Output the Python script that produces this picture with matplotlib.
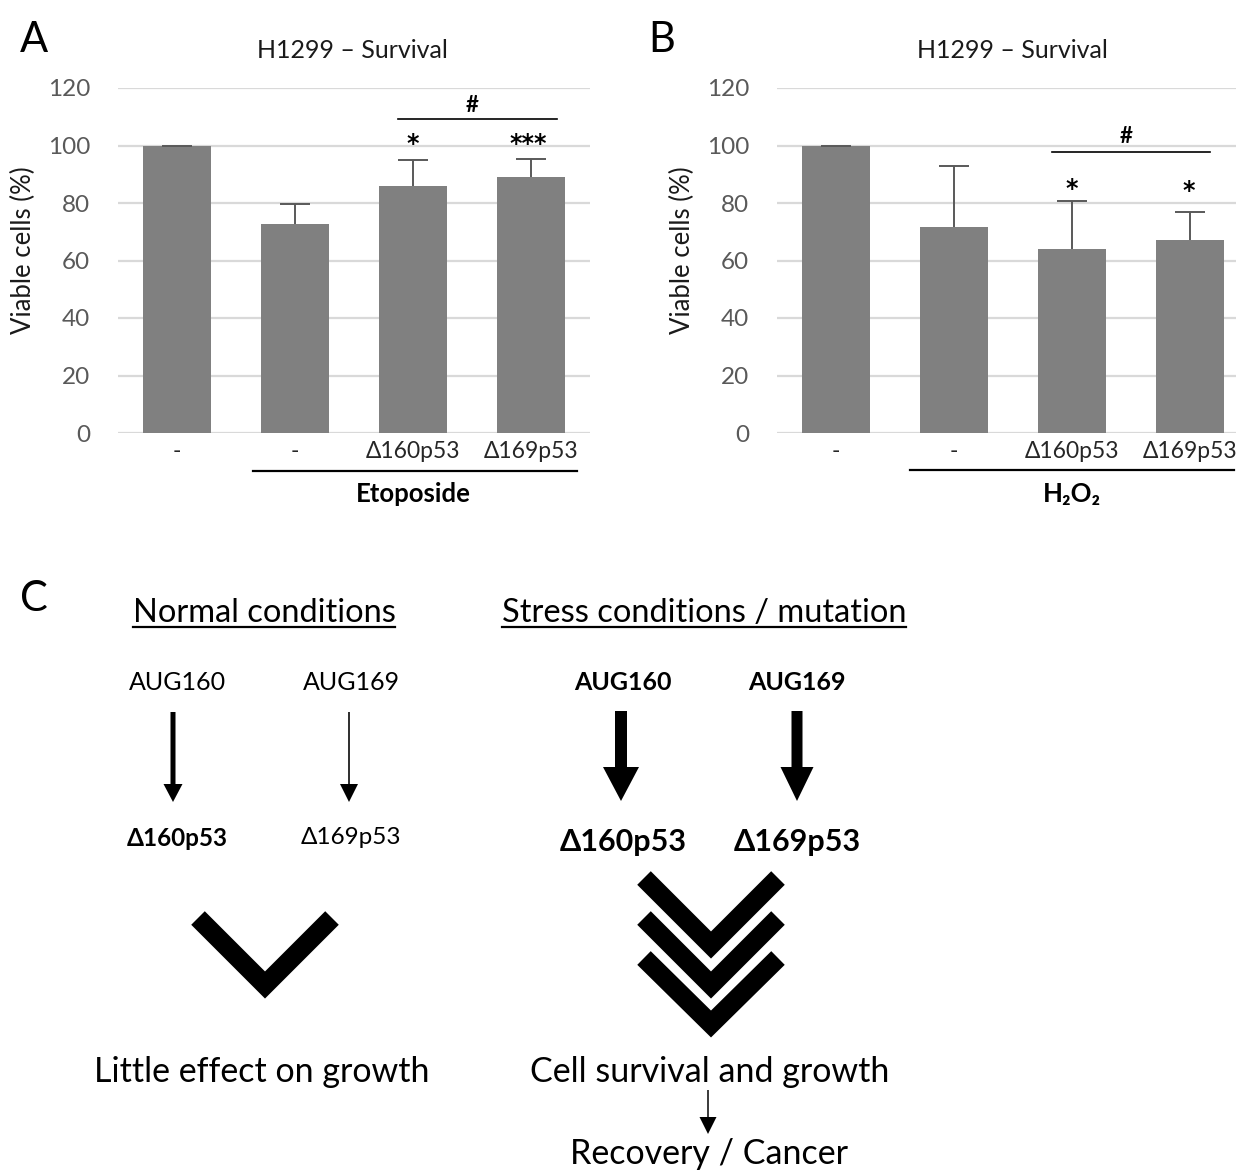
import matplotlib
matplotlib.use("Agg")
import matplotlib.pyplot as plt
from matplotlib.patches import FancyArrow
from matplotlib.lines import Line2D

plt.rcParams['font.family'] = ['Lato', 'DejaVu Sans']

# ---------------- data ----------------
categories = ['-', '-', 'Δ160p53', 'Δ169p53']
etoposide_mean = [100, 72.8, 86.0, 88.9]
etoposide_err = [0, 6.9, 8.8, 6.3]
h2o2_mean = [100, 71.5, 64.1, 67.2]
h2o2_err = [0, 21.4, 16.7, 9.6]
yticks = [0, 20, 40, 60, 80, 100, 120]
panel_titles = ['H1299 – Survival', 'H1299 – Survival']
treatments = ['Etoposide', 'H₂O₂']
ylabel = 'Viable cells (%)'

W, H = 1236, 1171
fig = plt.figure(figsize=(W / 100, H / 100), dpi=100)

# overlay axes in pixel coordinates (y downward)
ov = fig.add_axes([0, 0, 1, 1])
ov.set_xlim(0, W)
ov.set_ylim(H, 0)
ov.axis('off')


def px_axes(left, top, right, bottom):
    return fig.add_axes([left / W, 1 - bottom / H, (right - left) / W, (bottom - top) / H])


BAR = '#808080'
GRID = '#d9d9d9'
TICK = '#595959'


def bar_panel(ax, means, errs, treatment, group_line, sig):
    x = list(range(len(categories)))
    ax.bar(x, means, width=0.57, color=BAR, zorder=2)
    _, caps, _ = ax.errorbar(x, means, yerr=[[0] * len(errs), errs], fmt='none',
                             ecolor=TICK, elinewidth=1.4, capsize=11, capthick=1.4, zorder=3)
    caps[0].set_visible(False)
    ax.set_xlim(-0.5, 3.5)
    ax.set_ylim(0, 120)
    ax.set_yticks(yticks)
    ax.set_xticks(x, categories)
    ax.yaxis.grid(True, color=GRID, lw=1.6, zorder=0)
    ax.set_axisbelow(True)
    for s in ax.spines.values():
        s.set_visible(False)
    ax.tick_params(axis='y', length=0, pad=20, labelsize=17.5, labelcolor=TICK)
    ax.tick_params(axis='x', length=0, pad=6, labelsize=16.5, labelcolor='#262626')
    ax.set_ylabel(ylabel, fontsize=18.5, color='#1a1a1a', va='center')
    ax.yaxis.set_label_coords(-0.201, 0.53)
    x0, x1, yl = group_line
    ax.plot([x0, x1], [yl, yl], color='black', lw=1.6, clip_on=False)
    ax.text(2.0, -21.3, treatment, ha='center', va='center', fontsize=18.5,
            fontweight='bold', color='black', clip_on=False)
    (hx0, hx1, hy), (hashx, hashy), stars = sig
    ax.plot([hx0, hx1], [hy, hy], color='black', lw=1.2, clip_on=False)
    ax.text(hashx, hashy, '#', ha='center', va='center', fontsize=16, fontweight='bold')
    for sx, sy, st in stars:
        ax.text(sx, sy, st, ha='center', va='center', fontsize=17, fontweight='bold',
                family='DejaVu Sans')


axA = px_axes(118, 88, 590, 433)
bar_panel(axA, etoposide_mean, etoposide_err, treatments[0], (0.644, 3.39, -13.2),
          ((1.874, 3.218, 109.2), (2.5, 114.0), [(2.0, 100.5, '*'), (2.98, 100.5, '***')]))
axB = px_axes(777, 88, 1249, 433)
bar_panel(axB, h2o2_mean, h2o2_err, treatments[1], (0.63, 3.37, -12.9),
          ((1.83, 3.17, 97.7), (2.46, 103.0), [(2.0, 85.0, '*'), (2.99, 84.0, '*')]))

# panel letters & titles
for lx, ly, letter in [(20, 52, 'A'), (648, 52, 'B'), (20, 611, 'C')]:
    ov.text(lx, ly, letter, fontsize=30, va='baseline', ha='left', color='black')
ov.text(352, 50, panel_titles[0], fontsize=18, ha='center', va='center', color='#1a1a1a')
ov.text(1012, 50, panel_titles[1], fontsize=18, ha='center', va='center', color='#1a1a1a')

# ---------------- panel C (schematic) ----------------
headers = [('Normal conditions', 264), ('Stress conditions / mutation', 704)]
header_texts = []
for txt, cx in headers:
    t = ov.text(cx, 622, txt, fontsize=23.5, ha='center', va='baseline', color='black')
    header_texts.append(t)

aug_labels = [('AUG160', 177, 'normal', 18), ('AUG169', 351, 'normal', 18),
              ('AUG160', 623, 'bold', 18), ('AUG169', 797, 'bold', 18)]
for txt, cx, wgt, fs in aug_labels:
    ov.text(cx, 683, txt, fontsize=fs, fontweight=wgt, ha='center', va='center', color='black')

iso_labels = [('Δ160p53', 177, 838, 'bold', 17.5), ('Δ169p53', 351, 838, 'normal', 17.5),
              ('Δ160p53', 623, 842, 'bold', 22), ('Δ169p53', 797, 842, 'bold', 22)]
for txt, cx, cy, wgt, fs in iso_labels:
    ov.text(cx, cy, txt, fontsize=fs, fontweight=wgt, ha='center', va='center', color='black')

# arrows: x, y_start, y_end, shaft width, head width, head length
arrows = [(173, 712, 802, 5, 19, 18), (349, 712, 802, 1.6, 18, 18),
          (621, 711, 801, 12, 36, 34), (797, 711, 801, 11, 33, 34),
          (708, 1090, 1134, 1.5, 17, 17)]
for ax_, y0, y1, w, hw, hl in arrows:
    ov.add_patch(FancyArrow(ax_, y0, 0, y1 - y0, width=w, head_width=hw, head_length=hl,
                            length_includes_head=True, color='black', lw=0))

# chevrons: center x, arm-end y, half width, drop
chevrons = [(265, 918, 67, 67), (711, 878, 67, 67), (711, 918, 67, 67), (711, 958, 67, 66)]
for cx, yt, hw, dr in chevrons:
    ov.add_line(Line2D([cx - hw, cx, cx + hw], [yt, yt + dr, yt], color='black', lw=13.8,
                       solid_joinstyle='miter', solid_capstyle='butt'))

outcomes = [('Little effect on growth', 262, 1082), ('Cell survival and growth', 710, 1082),
            ('Recovery / Cancer', 709, 1164)]
for txt, cx, by in outcomes:
    ov.text(cx, by, txt, fontsize=24.5, ha='center', va='baseline', color='black')

# underline headers
fig.canvas.draw()
inv = ov.transData.inverted()
for t in header_texts:
    bb = t.get_window_extent()
    (xa, _), (xb, _) = inv.transform([(bb.x0, bb.y0), (bb.x1, bb.y0)])
    ov.plot([xa, xb], [627, 627], color='black', lw=1.6)

fig.savefig('out.png', dpi=100)
